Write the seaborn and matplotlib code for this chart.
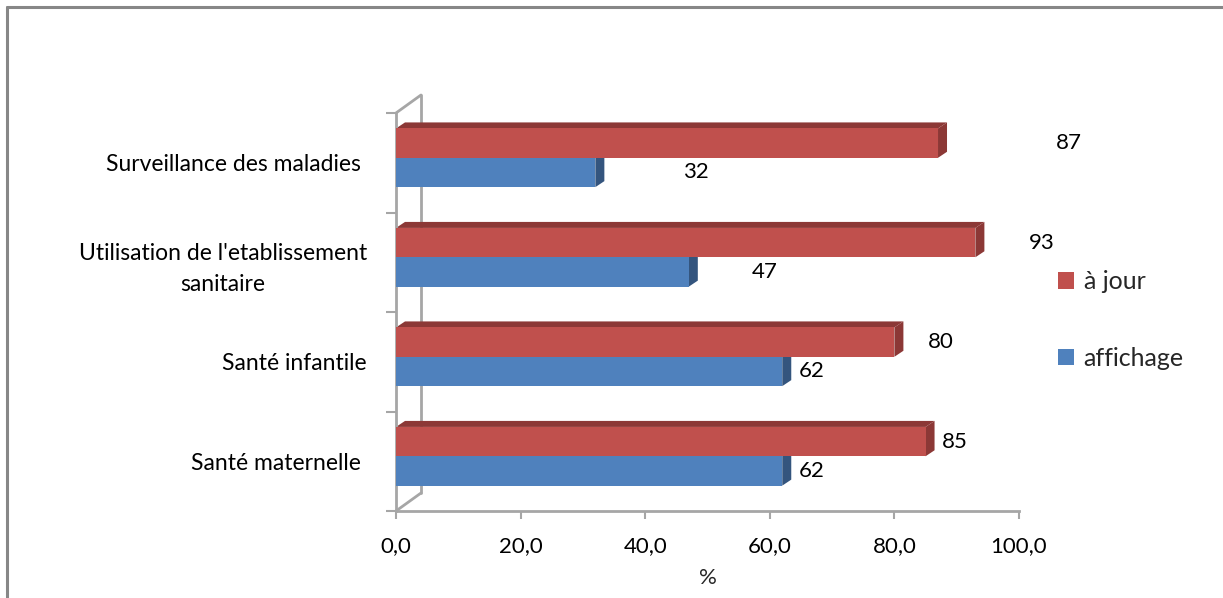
import matplotlib
matplotlib.use("Agg")
import matplotlib.pyplot as plt
import matplotlib.transforms as mtransforms
from matplotlib.lines import Line2D
from matplotlib.patches import Polygon
from matplotlib.ticker import FuncFormatter
import pandas as pd
import seaborn as sns

# ---- data ----------------------------------------------------------------
categories = [
    "Surveillance des maladies ",
    "Utilisation de l'etablissement\nsanitaire",
    "Santé infantile",
    "Santé maternelle ",
]
series_names = ["à jour", "affichage"]
a_jour = [87, 93, 80, 85]
affichage = [32, 47, 62, 62]
x_ticks = [0, 20, 40, 60, 80, 100]

# ---- styling ---------------------------------------------------------------
RED = "#C0504D"
BLUE = "#4F81BD"
RED_DARK = "#8C3836"
BLUE_DARK = "#34557E"
AXIS_GREY = "#A6A6A6"
BORDER_GREY = "#878787"
FONT = "Lato"
FS = 16

# horizontal offset (pixels) of each value label from the bar end
label_shift = {
    "à jour": [131, 66, 46, 29],
    "affichage": [101, 76, 29, 29],
}

sns.set_theme(style="white")
plt.rcParams["font.family"] = [FONT, "DejaVu Sans"]

W, H, DPI = 1223, 598, 100
fig = plt.figure(figsize=(W / DPI, H / DPI), dpi=DPI)
fig.patch.set_facecolor("white")

# plot area in pixels
ax_left, ax_right, ax_top, ax_bottom = 396, 1019, 113, 511
ax = fig.add_axes([ax_left / W, 1 - ax_bottom / H,
                   (ax_right - ax_left) / W, (ax_bottom - ax_top) / H])

df = pd.DataFrame({
    "catégorie": categories * 2,
    "série": [series_names[0]] * len(categories) + [series_names[1]] * len(categories),
    "valeur": a_jour + affichage,
})

sns.barplot(data=df, y="catégorie", x="valeur", hue="série",
            order=categories, hue_order=series_names,
            palette=[RED, BLUE], orient="h", width=0.59,
            saturation=1, errorbar=None, ax=ax, zorder=3,
            linewidth=0, edgecolor="none")

# small vertical shift of the category frame so bars sit slightly high in their band
c = 0.05
n = len(categories)
ax.set_xlim(0, 100)
ax.set_ylim(n - 0.5 + c, -0.5 + c)

ax.set_yticks([i + c for i in range(n)])
ax.set_yticklabels(categories, fontsize=16.5, color="black",
                   multialignment="center", linespacing=1.6)
ax.set_yticks([i - 0.5 + c for i in range(n + 1)], minor=True)
ax.tick_params(axis="y", which="major", length=0, pad=21)
ax.tick_params(axis="y", which="minor", length=7, width=1.5, color=AXIS_GREY, left=True)

ax.set_xticks(x_ticks)
ax.xaxis.set_major_formatter(FuncFormatter(lambda v, p: f"{v:.1f}".replace(".", ",")))
ax.tick_params(axis="x", which="major", length=6, width=1.5, color=AXIS_GREY,
               bottom=True, labelsize=FS, labelcolor="black", pad=12)
ax.set_xlabel("%", fontsize=FS, labelpad=9)
ax.set_ylabel("")

for side in ("top", "right"):
    ax.spines[side].set_visible(False)
for side in ("left", "bottom"):
    ax.spines[side].set_color(AXIS_GREY)
    ax.spines[side].set_linewidth(2)
ax.grid(False)
ax.set_facecolor("none")

# back wall of the 3-D frame: offset copy of the left axis plus joining diagonals
wall = mtransforms.offset_copy(ax.transAxes, fig=fig, x=25, y=18, units="dots")
ax.add_line(Line2D([0, 0], [0, 1], transform=wall, color=AXIS_GREY, lw=2,
                   clip_on=False, zorder=1))
for yy in (0, 1):
    p0 = ax.transAxes.transform((0, yy))
    p1 = wall.transform((0, yy))
    pts = ax.transData.inverted().transform([p0, p1])
    ax.add_line(Line2D(pts[:, 0], pts[:, 1], color=AXIS_GREY, lw=2,
                       clip_on=False, zorder=1))

# 3-D depth faces (top and right side) for each bar
dx, dy = 9, 6
inv = ax.transData.inverted()
for container, name in zip(ax.containers, series_names):
    dark = RED_DARK if name == series_names[0] else BLUE_DARK
    for bar in container:
        x0, y0 = bar.get_x(), bar.get_y()
        x1, y1 = x0 + bar.get_width(), y0 + bar.get_height()
        (px0, py_a), (px1, py_b) = ax.transData.transform([(x0, y0), (x1, y1)])
        ptop, pbot = max(py_a, py_b), min(py_a, py_b)
        top_face = [(px0, ptop), (px1, ptop), (px1 + dx, ptop + dy), (px0 + dx, ptop + dy)]
        side_face = [(px1, pbot), (px1, ptop), (px1 + dx, ptop + dy), (px1 + dx, pbot + dy)]
        for face in (top_face, side_face):
            ax.add_patch(Polygon(inv.transform(face), closed=True, facecolor=dark,
                                 edgecolor="none", zorder=2, clip_on=False))

# value labels
for container, name in zip(ax.containers, series_names):
    for bar in container:
        idx = int(round(bar.get_y() + bar.get_height() / 2))
        val = df[(df["série"] == name) & (df["catégorie"] == categories[idx])]["valeur"].iloc[0]
        yc = bar.get_y() + bar.get_height() / 2
        ax.annotate(f"{val}", xy=(val, yc), xytext=(label_shift[name][idx], 0),
                    textcoords="offset pixels", ha="center", va="center",
                    fontsize=FS, color="black", annotation_clip=False, zorder=5)

# legend on the right
handles, labels = ax.get_legend_handles_labels()
ax.legend(handles, labels, loc="center left", bbox_to_anchor=(1058 / W, 1 - 320 / H),
          bbox_transform=fig.transFigure, frameon=False, fontsize=18,
          handlelength=0.64, handleheight=0.64, handletextpad=0.38,
          labelspacing=2.15, borderpad=0, borderaxespad=0)

# chart-area border (top and left edges)
bx, by = 7 / W, 1 - 7 / H
fig.add_artist(Line2D([bx, bx], [0, by], transform=fig.transFigure, color=BORDER_GREY, lw=2.2))
fig.add_artist(Line2D([bx, 1], [by, by], transform=fig.transFigure, color=BORDER_GREY, lw=2.2))

fig.savefig("out.png", dpi=DPI, facecolor="white")
